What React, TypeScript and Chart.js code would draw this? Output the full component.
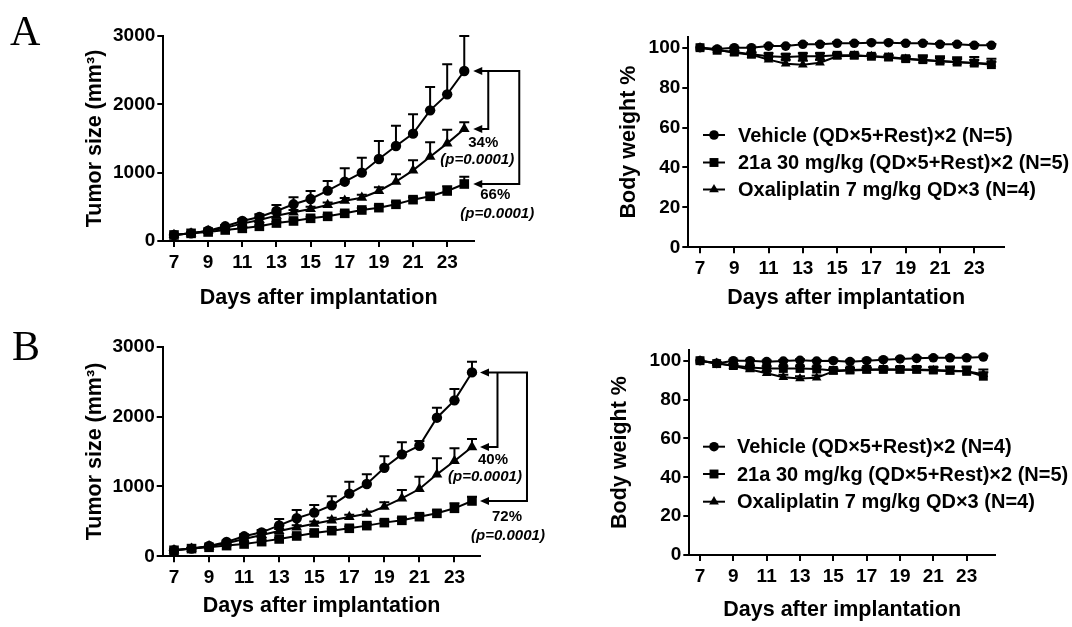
import React, { useEffect, useRef } from 'react';
import { Chart, registerables } from 'chart.js';

Chart.register(...registerables);

const FONT = "'Liberation Sans', Arial, Helvetica, sans-serif";
const INK = '#000';

// ---------------- data ----------------
const days = [7, 8, 9, 10, 11, 12, 13, 14, 15, 16, 17, 18, 19, 20, 21, 22, 23, 24];
const xTickDays = [7, 9, 11, 13, 15, 17, 19, 21, 23];
const tumorTicks = [0, 1000, 2000, 3000];
const weightTicks = [0, 20, 40, 60, 80, 100];

const seriesNamesA = [
  'Vehicle (QD×5+Rest)×2 (N=5)',
  '21a 30 mg/kg (QD×5+Rest)×2 (N=5)',
  'Oxaliplatin 7 mg/kg QD×3 (N=4)',
];
const seriesNamesB = [
  'Vehicle (QD×5+Rest)×2 (N=4)',
  '21a 30 mg/kg (QD×5+Rest)×2 (N=5)',
  'Oxaliplatin 7 mg/kg QD×3 (N=4)',
];

// Panel A - tumor size (mm3)
const aTumorVehicle = [88, 112, 151, 215, 293, 351, 439, 537, 615, 737, 868, 1000, 1200, 1390, 1571, 1912, 2146, 2488];
const aTumorVehicleErr = [8, 10, 15, 20, 29, 40, 88, 102, 117, 141, 195, 220, 263, 298, 283, 342, 439, 512];
const aTumor21a = [88, 112, 132, 161, 185, 215, 263, 293, 332, 361, 405, 454, 488, 537, 605, 654, 732, 834];
const aTumor21aErr = [8, 8, 10, 12, 14, 15, 18, 20, 22, 24, 25, 28, 30, 32, 35, 40, 68, 107];
const aTumorOxa = [88, 112, 146, 195, 254, 307, 371, 420, 468, 527, 590, 634, 732, 868, 1034, 1234, 1429, 1639];
const aTumorOxaErr = [8, 10, 12, 18, 22, 25, 30, 32, 35, 38, 40, 42, 53, 108, 146, 210, 200, 98];
const aInhibition = ['34%', '66%'];
const aPValues = ['(p=0.0001)', '(p=0.0001)'];

// Panel A - body weight %
const aWeightVehicle = [100, 99.3, 100, 100, 100.8, 100.8, 101.7, 101.7, 102.2, 102.2, 102.5, 102.5, 102.2, 102.2, 101.7, 101.7, 101.2, 101.2];
const aWeightVehicleErr = [0, 0.5, 0.5, 0.5, 0.5, 0.6, 0.6, 0.6, 0.6, 0.6, 0.6, 0.6, 0.6, 0.6, 0.6, 0.6, 0.6, 0.6];
const aWeight21a = [100, 98.7, 97.8, 96.7, 95.7, 95.3, 95.7, 95.7, 96.2, 96.2, 95.7, 95.3, 94.5, 94, 93.3, 92.8, 92.3, 91.5];
const aWeight21aErr = [0, 0.5, 0.8, 1, 1.5, 1.5, 1.5, 1.5, 1, 1, 1, 1, 1.2, 1.5, 1.5, 1.5, 1.5, 1.5];
const aWeightOxa = [100, 99, 97.5, 96.5, 94, 92, 91.5, 92.5, 95.7, 96, 95.7, 95, 94.3, 93.7, 93.2, 92.7, 92.3, 92];
const aWeightOxaErr = [0, 0.5, 0.8, 1, 1.5, 2, 2, 1.5, 1, 0.8, 0.8, 0.8, 1, 2.5, 2.5, 2.5, 3, 2.5];

// Panel B - tumor size (mm3)
const bTumorVehicle = [86, 110, 148, 205, 286, 343, 443, 544, 625, 730, 897, 1035, 1268, 1459, 1583, 1984, 2232, 2632];
const bTumorVehicleErr = [8, 10, 14, 20, 28, 35, 91, 119, 109, 128, 171, 138, 163, 172, 67, 143, 162, 153];
const bTumor21a = [86, 110, 129, 153, 176, 210, 248, 291, 334, 367, 401, 439, 482, 515, 567, 615, 687, 792];
const bTumor21aErr = [8, 8, 10, 12, 14, 15, 18, 20, 22, 24, 25, 28, 30, 32, 35, 40, 71, 62];
const bTumorOxa = [86, 110, 143, 186, 248, 305, 362, 415, 467, 515, 563, 610, 711, 830, 963, 1173, 1364, 1564];
const bTumorOxaErr = [8, 10, 12, 18, 22, 25, 28, 30, 32, 35, 30, 30, 62, 119, 177, 229, 181, 115];
const bInhibition = ['40%', '72%'];
const bPValues = ['(p=0.0001)', '(p=0.0001)'];

// Panel B - body weight %
const bWeightVehicle = [100, 98.6, 100, 100, 99.5, 99.8, 100.2, 99.8, 100, 99.5, 100, 100.5, 100.9, 101.2, 101.5, 101.5, 101.5, 101.9];
const bWeightVehicleErr = [0, 0.5, 0.5, 0.5, 0.6, 0.6, 0.6, 0.6, 0.6, 0.6, 0.6, 0.6, 0.6, 0.6, 0.6, 0.6, 0.6, 0.6];
const bWeight21a = [100, 98.5, 97.5, 96.5, 96, 96, 96, 95.7, 95, 95.2, 95.5, 95.5, 95.5, 95.5, 95.2, 95, 94.5, 92];
const bWeight21aErr = [0, 0.5, 0.8, 1, 1.2, 1.2, 1.2, 1.2, 1, 1, 1, 1, 1.2, 1.5, 1.5, 2, 2, 2];
const bWeightOxa = [100, 98.8, 97.2, 95.5, 93.5, 91.5, 90.8, 91.2, 94.5, 95, 95.2, 95.5, 95.3, 95.2, 95, 94.5, 94.5, 93];
const bWeightOxaErr = [0, 0.5, 0.8, 1, 1.2, 1.2, 1.2, 1.2, 1, 1, 1, 1, 1.2, 1.5, 1.5, 2, 2.5, 2.5];

// ---------------- drawing helpers ----------------
function drawMarker(ctx: CanvasRenderingContext2D, style: string, x: number, y: number, r: number) {
  ctx.beginPath();
  if (style === 'circle') {
    ctx.arc(x, y, r, 0, Math.PI * 2);
  } else if (style === 'rect') {
    const s = r * Math.SQRT1_2;
    ctx.rect(x - s, y - s, 2 * s, 2 * s);
  } else {
    let a = 0;
    ctx.moveTo(x + Math.sin(a) * r, y - Math.cos(a) * r);
    a += (2 * Math.PI) / 3;
    ctx.lineTo(x + Math.sin(a) * r, y - Math.cos(a) * r);
    a += (2 * Math.PI) / 3;
    ctx.lineTo(x + Math.sin(a) * r, y - Math.cos(a) * r);
    ctx.closePath();
  }
  ctx.fillStyle = INK;
  ctx.fill();
}

const errorBarPlugin = {
  id: 'upperErrorBars',
  beforeDatasetsDraw(chart: any) {
    const ctx = chart.ctx;
    const ys = chart.scales.y;
    chart.data.datasets.forEach((ds: any, i: number) => {
      if (!ds.errors) return;
      const meta = chart.getDatasetMeta(i);
      ctx.save();
      ctx.strokeStyle = INK;
      ctx.lineWidth = 2;
      meta.data.forEach((pt: any, j: number) => {
        const e = ds.errors[j];
        if (!e) return;
        const top = ys.getPixelForValue(ds.data[j].y + e);
        ctx.beginPath();
        ctx.moveTo(pt.x, pt.y);
        ctx.lineTo(pt.x, top);
        ctx.moveTo(pt.x - 5, top);
        ctx.lineTo(pt.x + 5, top);
        ctx.stroke();
      });
      ctx.restore();
    });
  },
};

function makeLegendPlugin(lg: any) {
  return {
    id: 'insideLegend',
    afterDraw(chart: any) {
      if (!lg) return;
      const ctx = chart.ctx;
      ctx.save();
      chart.data.datasets.forEach((ds: any, i: number) => {
        const y = lg.rows[i];
        ctx.strokeStyle = INK;
        ctx.lineWidth = 2;
        ctx.beginPath();
        ctx.moveTo(lg.lineX0, y);
        ctx.lineTo(lg.lineX1, y);
        ctx.stroke();
        drawMarker(ctx, ds.pointStyle, (lg.lineX0 + lg.lineX1) / 2, y, ds.pointRadius);
        ctx.fillStyle = INK;
        ctx.font = `bold ${lg.fontSize}px ${FONT}`;
        ctx.textAlign = 'left';
        ctx.textBaseline = 'middle';
        ctx.fillText(ds.label, lg.textX, y + 1);
      });
      ctx.restore();
    },
  };
}

function makeBracketPlugin(br: any) {
  return {
    id: 'bracketArrows',
    afterDatasetsDraw(chart: any) {
      if (!br) return;
      const ctx = chart.ctx;
      const last = (i: number) => {
        const d = chart.getDatasetMeta(i).data;
        return d[d.length - 1];
      };
      const v = last(0);
      const sq = last(1);
      const tri = last(2);
      const tip = v.x + br.tip;
      const inner = v.x + br.inner;
      const outer = v.x + br.outer;
      ctx.save();
      ctx.strokeStyle = INK;
      ctx.fillStyle = INK;
      ctx.lineWidth = 2;
      ctx.beginPath();
      ctx.moveTo(tip + 6, v.y);
      ctx.lineTo(outer, v.y);
      ctx.lineTo(outer, sq.y);
      ctx.lineTo(tip + 6, sq.y);
      ctx.moveTo(inner, v.y);
      ctx.lineTo(inner, tri.y);
      ctx.lineTo(tip + 6, tri.y);
      ctx.stroke();
      const head = (y: number) => {
        ctx.beginPath();
        ctx.moveTo(tip, y);
        ctx.lineTo(tip + 9, y - 4);
        ctx.lineTo(tip + 9, y + 4);
        ctx.closePath();
        ctx.fill();
      };
      head(v.y);
      head(tri.y);
      head(sq.y);
      ctx.textAlign = 'center';
      ctx.textBaseline = 'middle';
      const put = (txt: string, italic: boolean, x: number, y: number) => {
        ctx.font = `${italic ? 'italic ' : ''}bold 15px ${FONT}`;
        ctx.fillText(txt, x, y);
      };
      put(br.pct[0], false, v.x + br.t1[0], tri.y + br.t1[1]);
      put(br.p[0], true, v.x + br.p1[0], tri.y + br.p1[1]);
      put(br.pct[1], false, v.x + br.t2[0], sq.y + br.t2[1]);
      put(br.p[1], true, v.x + br.p2[0], sq.y + br.p2[1]);
      ctx.restore();
    },
  };
}

// ---------------- panel configuration ----------------
type Panel = {
  area: { left: number; right: number; top: number; bottom: number };
  padLeft: number;
  yTitlePad: number;
  xBoxBottom: number;
  xMin: number;
  xMax: number;
  yMax: number;
  yTicks: number[];
  yTitle: string;
  names: string[];
  values: number[][];
  errors: number[][];
  radii: number[];
  legend?: any;
  bracket?: any;
};

const styles = ['circle', 'rect', 'triangle'];

const panels: Panel[] = [
  {
    area: { left: 163.3, right: 474, top: 36, bottom: 241 },
    padLeft: 0, yTitlePad: 82, xBoxBottom: 314.6,
    xMin: 6.374, xMax: 24.57, yMax: 3000, yTicks: tumorTicks,
    yTitle: 'Tumor size (mm³)', names: seriesNamesA,
    values: [aTumorVehicle, aTumor21a, aTumorOxa],
    errors: [aTumorVehicleErr, aTumor21aErr, aTumorOxaErr],
    radii: [5.2, 6.8, 6.2],
    bracket: { tip: 9, inner: 24, outer: 55, pct: aInhibition, p: aPValues, t1: [19, 14], p1: [13, 31], t2: [31, 11], p2: [33, 29.5] },
  },
  {
    area: { left: 688.3, right: 1004, top: 36.7, bottom: 247.3 },
    padLeft: 560, yTitlePad: 55.7, xBoxBottom: 314.9,
    xMin: 6.317, xMax: 24.735, yMax: 105.5, yTicks: weightTicks,
    yTitle: 'Body weight %', names: seriesNamesA,
    values: [aWeightVehicle, aWeight21a, aWeightOxa],
    errors: [aWeightVehicleErr, aWeight21aErr, aWeightOxaErr],
    radii: [4.8, 6.3, 5.6],
    legend: { lineX0: 703, lineX1: 725, textX: 738, rows: [135, 162.5, 189.5], fontSize: 20 },
  },
  {
    area: { left: 162.7, right: 480.4, top: 346.7, bottom: 556.3 },
    padLeft: 0, yTitlePad: 82, xBoxBottom: 622.6,
    xMin: 6.355, xMax: 24.48, yMax: 3000, yTicks: tumorTicks,
    yTitle: 'Tumor size (mm³)', names: seriesNamesB,
    values: [bTumorVehicle, bTumor21a, bTumorOxa],
    errors: [bTumorVehicleErr, bTumor21aErr, bTumorOxaErr],
    radii: [5.2, 6.8, 6.2],
    bracket: { tip: 8, inner: 25.5, outer: 55, pct: bInhibition, p: bPValues, t1: [21, 12.5], p1: [13, 30], t2: [35, 16], p2: [36, 35] },
  },
  {
    area: { left: 689.3, right: 995, top: 350, bottom: 555 },
    padLeft: 560, yTitlePad: 47.4, xBoxBottom: 626.6,
    xMin: 6.358, xMax: 24.7, yMax: 105.5, yTicks: weightTicks,
    yTitle: 'Body weight %', names: seriesNamesB,
    values: [bWeightVehicle, bWeight21a, bWeightOxa],
    errors: [bWeightVehicleErr, bWeight21aErr, bWeightOxaErr],
    radii: [4.8, 6.3, 5.6],
    legend: { lineX0: 703, lineX1: 725, textX: 737, rows: [446.7, 474, 501.7], fontSize: 20 },
  },
];

function buildConfig(p: Panel): any {
  const tickFont = { family: FONT, size: 19, weight: 'bold' as const };
  const titleFont = { family: FONT, size: 21.5, weight: 'bold' as const };
  const grid = { drawOnChartArea: false, drawTicks: true, tickLength: 6, lineWidth: 2, color: INK, tickColor: INK };
  const border = { display: true, width: 2, color: INK };
  return {
    type: 'line',
    data: {
      datasets: p.values.map((vals, i) => ({
        label: p.names[i],
        data: days.map((d, j) => ({ x: d, y: vals[j] })),
        errors: p.errors[i],
        borderColor: INK,
        backgroundColor: INK,
        borderWidth: 2,
        pointStyle: styles[i],
        pointRadius: p.radii[i],
        pointBorderWidth: 0,
        pointBackgroundColor: INK,
        pointBorderColor: INK,
        tension: 0,
        fill: false,
        clip: false,
      })),
    },
    options: {
      responsive: false,
      animation: false,
      events: [],
      layout: {
        padding: {
          left: p.padLeft,
          top: p.area.top,
          right: 1072 - p.area.right,
          bottom: 627 - p.xBoxBottom,
        },
      },
      plugins: { legend: { display: false }, tooltip: { enabled: false } },
      scales: {
        x: {
          type: 'linear',
          min: p.xMin,
          max: p.xMax,
          afterFit: (s: any) => { s.height = p.xBoxBottom - p.area.bottom; },
          afterBuildTicks: (s: any) => { s.ticks = xTickDays.map((v) => ({ value: v })); },
          ticks: { font: tickFont, color: INK, padding: 4, autoSkip: false, maxRotation: 0, callback: (v: any) => String(v) },
          grid, border,
          title: { display: true, text: 'Days after implantation', font: titleFont, color: INK, padding: { top: 0, bottom: 4 } },
        },
        y: {
          type: 'linear',
          min: 0,
          max: p.yMax,
          afterFit: (s: any) => { s.width = p.area.left - p.padLeft; },
          afterBuildTicks: (s: any) => { s.ticks = p.yTicks.map((v) => ({ value: v })); },
          ticks: { font: tickFont, color: INK, padding: 2, callback: (v: any) => String(v) },
          grid, border,
          title: { display: true, text: p.yTitle, font: titleFont, color: INK, padding: { top: p.yTitlePad, bottom: 0 } },
        },
      },
    },
    plugins: [errorBarPlugin, makeLegendPlugin(p.legend), makeBracketPlugin(p.bracket)],
  };
}

function PanelChart({ cfg }: { cfg: Panel }) {
  const ref = useRef<HTMLCanvasElement>(null);
  useEffect(() => {
    const chart = new Chart(ref.current as HTMLCanvasElement, buildConfig(cfg));
    return () => chart.destroy();
  }, [cfg]);
  return (
    <canvas
      ref={ref}
      width={1072}
      height={627}
      style={{ position: 'absolute', left: 0, top: 0, width: 1072, height: 627 }}
    />
  );
}

const letterStyle: React.CSSProperties = {
  position: 'absolute',
  fontFamily: "'Liberation Serif', 'Times New Roman', serif",
  fontSize: 42,
  lineHeight: '42px',
  color: INK,
};

export default function App() {
  return (
    <div style={{ position: 'absolute', left: 0, top: 0, width: 1072, height: 627, background: '#fff', overflow: 'hidden' }}>
      {panels.map((p, i) => (
        <PanelChart key={i} cfg={p} />
      ))}
      <div style={{ ...letterStyle, left: 10, top: 10 }}>A</div>
      <div style={{ ...letterStyle, left: 12, top: 325 }}>B</div>
    </div>
  );
}
